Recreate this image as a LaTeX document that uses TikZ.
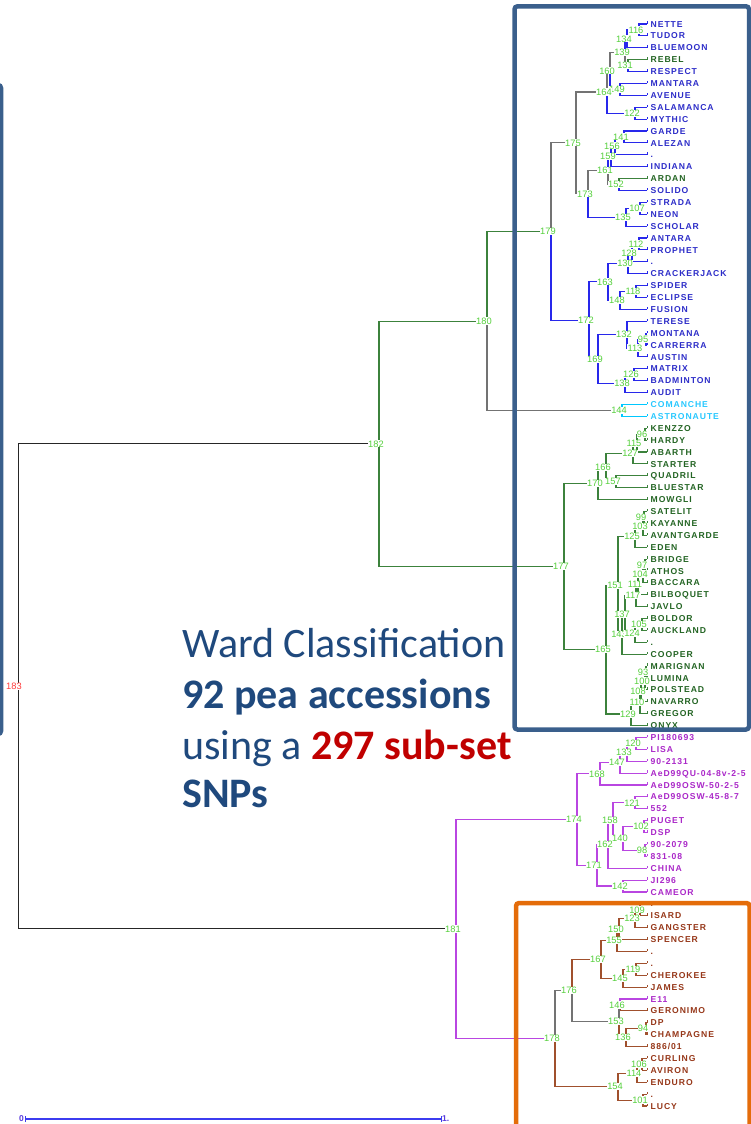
\documentclass[tikz,border=0pt]{standalone}
\usepackage{fontspec}
\setmainfont{Liberation Sans}
\newfontfamily\leaffont[LetterSpace=11]{Liberation Sans}
\newfontfamily\calib{Carlito}
\usetikzlibrary{calc}
\definecolor{blueframe}{RGB}{58,95,140}
\definecolor{orangeframe}{RGB}{228,108,10}
\definecolor{lineblue}{RGB}{40,40,235}
\definecolor{linegreen}{RGB}{60,130,60}
\definecolor{linegray}{RGB}{115,115,115}
\definecolor{linecyan}{RGB}{0,200,255}
\definecolor{linepurple}{RGB}{185,70,225}
\definecolor{linebrown}{RGB}{160,80,45}
\definecolor{txtblue}{RGB}{45,45,200}
\definecolor{txtgreen}{RGB}{35,100,35}
\definecolor{txtcyan}{RGB}{40,200,255}
\definecolor{txtpurple}{RGB}{170,40,200}
\definecolor{txtbrown}{RGB}{150,55,25}
\definecolor{lblgreen}{RGB}{85,208,60}
\definecolor{titleblue}{RGB}{31,73,125}
\definecolor{titlered}{RGB}{192,0,0}
\definecolor{rootred}{RGB}{255,60,60}
\definecolor{scaleblue}{RGB}{60,60,240}
\definecolor{scaletxt}{RGB}{90,60,220}
\newcommand\nd[4]{%
  \pgfmathsetmacro\ndy{(\csname ny@#3\endcsname+\csname ny@#4\endcsname)/2}%
  \expandafter\xdef\csname ny@#1\endcsname{\ndy}%
  \coordinate (#1) at (#2,\ndy);}
\newcommand\edg[3]{\draw[#1] (#2) |- (#3);}
\begin{document}
\begin{tikzpicture}[x=1pt,y=-1pt,
  ln/.style={line width=1.1pt},
  lnb/.style={ln,lineblue}, lng/.style={ln,linegreen}, lngr/.style={ln,linegray},
  lnc/.style={ln,linecyan}, lnp/.style={ln,linepurple}, lnr/.style={ln,linebrown},
  lnk/.style={line width=1pt,black!85},
  leaf/.style={anchor=west,inner sep=0.5pt,font=\leaffont\bfseries\fontsize{8.6}{8.6}\selectfont,text height=6.2pt,text depth=0pt},
  txb/.style={leaf,txtblue}, txg/.style={leaf,txtgreen}, txc/.style={leaf,txtcyan},
  txp/.style={leaf,txtpurple}, txr/.style={leaf,txtbrown},
  lbl/.style={fill=white,inner sep=0.3pt,text=lblgreen,font=\fontsize{9.3}{9.3}\selectfont},
  ttl/.style={anchor=base west,inner sep=0pt,text=titleblue,font=\calib\fontsize{42}{50}\selectfont},
  frame/.style={line width=4.5pt,rounded corners=3pt}]
\useasboundingbox (0,0) rectangle (751,1124);
% leaves
\foreach \i/\t/\s in {1/NETTE/b,2/TUDOR/b,3/BLUEMOON/b,4/REBEL/g,5/RESPECT/b,6/MANTARA/b,7/AVENUE/b,8/SALAMANCA/b,9/MYTHIC/b,10/GARDE/b,11/ALEZAN/b,12/./b,13/INDIANA/b,14/ARDAN/g,15/SOLIDO/b,16/STRADA/b,17/NEON/b,18/SCHOLAR/b,19/ANTARA/b,20/PROPHET/b,21/./b,22/CRACKERJACK/b,23/SPIDER/b,24/ECLIPSE/b,25/FUSION/b,26/TERESE/b,27/MONTANA/b,28/CARRERRA/b,29/AUSTIN/b,30/MATRIX/b,31/BADMINTON/b,32/AUDIT/b,33/COMANCHE/c,34/ASTRONAUTE/c,35/KENZZO/g,36/HARDY/g,37/ABARTH/g,38/STARTER/g,39/QUADRIL/g,40/BLUESTAR/g,41/MOWGLI/g,42/SATELIT/g,43/KAYANNE/g,44/AVANTGARDE/g,45/EDEN/g,46/BRIDGE/g,47/ATHOS/g,48/BACCARA/g,49/BILBOQUET/g,50/JAVLO/g,51/BOLDOR/g,52/AUCKLAND/g,53/./g,54/COOPER/g,55/MARIGNAN/g,56/LUMINA/g,57/POLSTEAD/g,58/NAVARRO/g,59/GREGOR/g,60/ONYX/g,61/PI180693/p,62/LISA/p,63/90-2131/p,64/AeD99QU-04-8v-2-5/p,65/AeD99OSW-50-2-5/p,66/AeD99OSW-45-8-7/p,67/552/p,68/PUGET/p,69/DSP/p,70/90-2079/p,71/831-08/p,72/CHINA/p,73/JI296/p,74/CAMEOR/p,75/./r,76/ISARD/r,77/GANGSTER/r,78/SPENCER/r,79/./r,80/./r,81/CHEROKEE/r,82/JAMES/r,83/E11/p,84/GERONIMO/r,85/DP/r,86/CHAMPAGNE/r,87/{886/01}/r,88/CURLING/r,89/AVIRON/r,90/ENDURO/r,91/./r,92/LUCY/r}{
  \pgfmathsetmacro\yy{24+(\i-1)*11.89}
  \expandafter\xdef\csname ny@L\i\endcsname{\yy}
  \coordinate (L\i) at (647,\yy);
  \draw[ln\s,line width=0.9pt] (L\i) -- ++(0,-2.6);
  \node[tx\s] (T\i) at (650,\yy) {\t};
}
% internal nodes (x, children)
\nd{n116}{639}{L1}{L2}
\nd{n134}{627}{n116}{L3}
\nd{n131}{628}{L4}{L5}
\nd{n139}{625}{n134}{n131}
\nd{n149}{620}{L6}{L7}
\nd{n160}{610}{n139}{n149}
\nd{n122}{635}{L8}{L9}
\nd{n164}{607}{n160}{n122}
\nd{n141}{624}{L10}{L11}
\nd{n156}{615}{n141}{L12}
\nd{n159}{611}{n156}{L13}
\nd{n152}{619}{L14}{L15}
\nd{n161}{608}{n159}{n152}
\nd{n107}{640}{L16}{L17}
\nd{n135}{626}{n107}{L18}
\nd{n173}{588}{n161}{n135}
\nd{n175}{576}{n164}{n173}
\nd{n112}{639}{L19}{L20}
\nd{n128}{632}{n112}{L21}
\nd{n130}{628}{n128}{L22}
\nd{n118}{636}{L23}{L24}
\nd{n148}{620}{n118}{L25}
\nd{n163}{608}{n130}{n148}
\nd{n95}{646}{L27}{L28}
\nd{n113}{638}{n95}{L29}
\nd{n132}{627}{L26}{n113}
\nd{n126}{634}{L30}{L31}
\nd{n138}{625}{n126}{L32}
\nd{n169}{598}{n132}{n138}
\nd{n172}{589}{n163}{n169}
\nd{n179}{551}{n175}{n172}
\nd{n144}{622}{L33}{L34}
\nd{n180}{487}{n179}{n144}
\nd{n96}{645}{L35}{L36}
\nd{n115}{637}{n96}{L37}
\nd{n127}{633}{n115}{L38}
\nd{n157}{616}{L39}{L40}
\nd{n166}{606}{n127}{n157}
\nd{n170}{598}{n166}{L41}
\nd{n99}{644}{L42}{L43}
\nd{n103}{643}{n99}{L44}
\nd{n125}{635}{n103}{L45}
\nd{n97}{645}{L46}{L47}
\nd{n104}{643}{n97}{L48}
\nd{n111}{638}{n104}{L49}
\nd{n117}{636}{n111}{L50}
\nd{n105}{642}{L51}{L52}
\nd{n124}{635}{n105}{L53}
\nd{n137}{625}{n117}{n124}
\nd{n143}{622}{n137}{L54}
\nd{n151}{618}{n125}{n143}
\nd{n93}{646}{L55}{L56}
\nd{n100}{645}{n93}{L57}
\nd{n108}{641}{n100}{L58}
\nd{n110}{640}{n108}{L59}
\nd{n129}{631}{n110}{L60}
\nd{n165}{606}{n151}{n129}
\nd{n177}{564}{n170}{n165}
\nd{n182}{379}{n180}{n177}
\nd{n120}{636}{L61}{L62}
\nd{n133}{627}{n120}{L63}
\nd{n147}{620}{n133}{L64}
\nd{n168}{600}{n147}{L65}
\nd{n121}{635}{L66}{L67}
\nd{n102}{644}{L68}{L69}
\nd{n98}{645}{L70}{L71}
\nd{n140}{623}{n102}{n98}
\nd{n158}{613}{n121}{n140}
\nd{n162}{608}{n158}{L72}
\nd{n142}{623}{L73}{L74}
\nd{n171}{597}{n162}{n142}
\nd{n174}{577}{n168}{n171}
\nd{n109}{640}{L75}{L76}
\nd{n123}{635}{n109}{L77}
\nd{n150}{619}{n123}{L78}
\nd{n155}{617}{n150}{L79}
\nd{n119}{636}{L80}{L81}
\nd{n145}{623}{n119}{L82}
\nd{n167}{601}{n155}{n145}
\nd{n146}{620}{L83}{L84}
\nd{n94}{646}{L85}{L86}
\nd{n136}{626}{n94}{L87}
\nd{n153}{619}{n146}{n136}
\nd{n176}{572}{n167}{n153}
\nd{n106}{642}{L88}{L89}
\nd{n114}{637}{n106}{L90}
\nd{n101}{643}{L91}{L92}
\nd{n154}{618}{n114}{n101}
\nd{n178}{555}{n176}{n154}
\nd{n181}{456}{n174}{n178}
\nd{n183}{18}{n182}{n181}
% edges: blue group
\edg{lnb}{n116}{L1} \edg{lnb}{n116}{L2}
\edg{lnb}{n134}{n116} \edg{lnb}{n134}{L3}
\edg{lng}{n131}{L4} \edg{lnb}{n131}{L5}
\edg{lnb}{n139}{n134} \edg{lngr}{n139}{n131}
\edg{lnb}{n149}{L6} \edg{lnb}{n149}{L7}
\edg{lngr}{n160}{n139} \edg{lnb}{n160}{n149}
\edg{lnb}{n122}{L8} \edg{lnb}{n122}{L9}
\edg{lngr}{n164}{n160} \edg{lnb}{n164}{n122}
\edg{lnb}{n141}{L10} \edg{lnb}{n141}{L11}
\edg{lnb}{n156}{n141} \edg{lnb}{n156}{L12}
\edg{lnb}{n159}{n156} \edg{lnb}{n159}{L13}
\edg{lng}{n152}{L14} \edg{lnb}{n152}{L15}
\edg{lnb}{n161}{n159} \edg{lngr}{n161}{n152}
\edg{lnb}{n107}{L16} \edg{lnb}{n107}{L17}
\edg{lnb}{n135}{n107} \edg{lnb}{n135}{L18}
\edg{lngr}{n173}{n161} \edg{lnb}{n173}{n135}
\edg{lngr}{n175}{n164} \edg{lngr}{n175}{n173}
\edg{lnb}{n112}{L19} \edg{lnb}{n112}{L20}
\edg{lnb}{n128}{n112} \edg{lnb}{n128}{L21}
\edg{lnb}{n130}{n128} \edg{lnb}{n130}{L22}
\edg{lnb}{n118}{L23} \edg{lnb}{n118}{L24}
\edg{lnb}{n148}{n118} \edg{lnb}{n148}{L25}
\edg{lnb}{n163}{n130} \edg{lnb}{n163}{n148}
\edg{lnb}{n95}{L27} \edg{lnb}{n95}{L28}
\edg{lnb}{n113}{n95} \edg{lnb}{n113}{L29}
\edg{lnb}{n132}{L26} \edg{lnb}{n132}{n113}
\edg{lnb}{n126}{L30} \edg{lnb}{n126}{L31}
\edg{lnb}{n138}{n126} \edg{lnb}{n138}{L32}
\edg{lnb}{n169}{n132} \edg{lnb}{n169}{n138}
\edg{lnb}{n172}{n163} \edg{lnb}{n172}{n169}
\edg{lngr}{n179}{n175} \edg{lnb}{n179}{n172}
\edg{lnc}{n144}{L33} \edg{lnc}{n144}{L34}
\edg{lng}{n180}{n179} \edg{lngr}{n180}{n144}
% green group
\edg{lng}{n96}{L35} \edg{lng}{n96}{L36}
\edg{lng}{n115}{n96} \edg{lng}{n115}{L37}
\edg{lng}{n127}{n115} \edg{lng}{n127}{L38}
\edg{lng}{n157}{L39} \edg{lng}{n157}{L40}
\edg{lng}{n166}{n127} \edg{lng}{n166}{n157}
\edg{lng}{n170}{n166} \edg{lng}{n170}{L41}
\edg{lng}{n99}{L42} \edg{lng}{n99}{L43}
\edg{lng}{n103}{n99} \edg{lng}{n103}{L44}
\edg{lng}{n125}{n103} \edg{lng}{n125}{L45}
\edg{lng}{n97}{L46} \edg{lng}{n97}{L47}
\edg{lng}{n104}{n97} \edg{lng}{n104}{L48}
\edg{lng}{n111}{n104} \edg{lng}{n111}{L49}
\edg{lng}{n117}{n111} \edg{lng}{n117}{L50}
\edg{lng}{n105}{L51} \edg{lng}{n105}{L52}
\edg{lng}{n124}{n105} \edg{lng}{n124}{L53}
\edg{lng}{n137}{n117} \edg{lng}{n137}{n124}
\edg{lng}{n143}{n137} \edg{lng}{n143}{L54}
\edg{lng}{n151}{n125} \edg{lng}{n151}{n143}
\edg{lng}{n93}{L55} \edg{lng}{n93}{L56}
\edg{lng}{n100}{n93} \edg{lng}{n100}{L57}
\edg{lng}{n108}{n100} \edg{lng}{n108}{L58}
\edg{lng}{n110}{n108} \edg{lng}{n110}{L59}
\edg{lng}{n129}{n110} \edg{lng}{n129}{L60}
\edg{lng}{n165}{n151} \edg{lng}{n165}{n129}
\edg{lng}{n177}{n170} \edg{lng}{n177}{n165}
\edg{lng}{n182}{n180} \edg{lng}{n182}{n177}
% purple group
\edg{lnp}{n120}{L61} \edg{lnp}{n120}{L62}
\edg{lnp}{n133}{n120} \edg{lnp}{n133}{L63}
\edg{lnp}{n147}{n133} \edg{lnp}{n147}{L64}
\edg{lnp}{n168}{n147} \edg{lnp}{n168}{L65}
\edg{lnp}{n121}{L66} \edg{lnp}{n121}{L67}
\edg{lnp}{n102}{L68} \edg{lnp}{n102}{L69}
\edg{lnp}{n98}{L70} \edg{lnp}{n98}{L71}
\edg{lnp}{n140}{n102} \edg{lnp}{n140}{n98}
\edg{lnp}{n158}{n121} \edg{lnp}{n158}{n140}
\edg{lnp}{n162}{n158} \edg{lnp}{n162}{L72}
\edg{lnp}{n142}{L73} \edg{lnp}{n142}{L74}
\edg{lnp}{n171}{n162} \edg{lnp}{n171}{n142}
\edg{lnp}{n174}{n168} \edg{lnp}{n174}{n171}
% brown group
\edg{lnr}{n109}{L75} \edg{lnr}{n109}{L76}
\edg{lnr}{n123}{n109} \edg{lnr}{n123}{L77}
\edg{lnr}{n150}{n123} \edg{lnr}{n150}{L78}
\edg{lnr}{n155}{n150} \edg{lnr}{n155}{L79}
\edg{lnr}{n119}{L80} \edg{lnr}{n119}{L81}
\edg{lnr}{n145}{n119} \edg{lnr}{n145}{L82}
\edg{lnr}{n167}{n155} \edg{lnr}{n167}{n145}
\edg{lnp}{n146}{L83} \edg{lnr}{n146}{L84}
\edg{lnr}{n94}{L85} \edg{lnr}{n94}{L86}
\edg{lnr}{n136}{n94} \edg{lnr}{n136}{L87}
\edg{lngr}{n153}{n146} \edg{lnr}{n153}{n136}
\edg{lnr}{n176}{n167} \edg{lngr}{n176}{n153}
\edg{lnr}{n106}{L88} \edg{lnr}{n106}{L89}
\edg{lnr}{n114}{n106} \edg{lnr}{n114}{L90}
\edg{lnr}{n101}{L91} \edg{lnr}{n101}{L92}
\edg{lnr}{n154}{n114} \edg{lnr}{n154}{n101}
\edg{lngr}{n178}{n176} \edg{lnr}{n178}{n154}
\edg{lnp}{n181}{n174} \edg{lnp}{n181}{n178}
\edg{lnk}{n183}{n182} \edg{lnk}{n183}{n181}
% node labels
\foreach \k in {116,134,131,139,149,160,122,164,141,156,159,152,161,107,135,173,175,112,128,130,118,148,163,95,113,132,126,138,169,172,179,144,180,96,115,127,157,166,170,99,103,125,97,104,111,117,105,143,124,137,151,93,100,108,110,129,165,177,182,120,133,147,168,121,102,98,140,162,158,142,171,174,109,123,150,155,119,145,167,146,94,136,153,176,106,114,101,154,178,181}{
  \node[lbl] (lb\k) at ([xshift=-3pt]n\k) {\k};
}
\node[lbl,text=rootred] (lb183) at ([xshift=-4pt]n183) {183};
% frames
\draw[frame,blueframe] (514.5,6.3) rectangle (749,729.5);
\draw[frame,orangeframe] (516,903) rectangle (749.5,1150);
\draw[frame,blueframe] (-20,85) rectangle (1,734);
% title text
\node[ttl] (w1) at (182,657) {Ward Classification};
\node[ttl] (w2) at (182,708) {\bfseries 92 pea accessions};
\node[ttl] (w3) at (182,759) {using a \textcolor{titlered}{\bfseries 297 sub-set}};
\node[ttl] (w4) at (182,807) {\bfseries SNPs};
% scale bar
\coordinate (sa) at (25,1119);
\coordinate (sb) at (441,1119);
\draw[scaleblue,line width=1.1pt] (sa) -- (sb);
\draw[scaleblue,line width=1pt] ([yshift=-3pt]sa) -- ([yshift=3pt]sa);
\draw[scaleblue,line width=1pt] ([yshift=-3pt]sb) -- ([yshift=3pt]sb);
\node[anchor=east,inner sep=1pt,text=scaletxt,font=\bfseries\fontsize{8.5}{8.5}\selectfont] (s0) at (sa) {0};
\node[anchor=west,inner sep=1pt,text=scaletxt,font=\bfseries\fontsize{8.5}{8.5}\selectfont] (s1) at (sb) {1.};
\end{tikzpicture}
\end{document}
